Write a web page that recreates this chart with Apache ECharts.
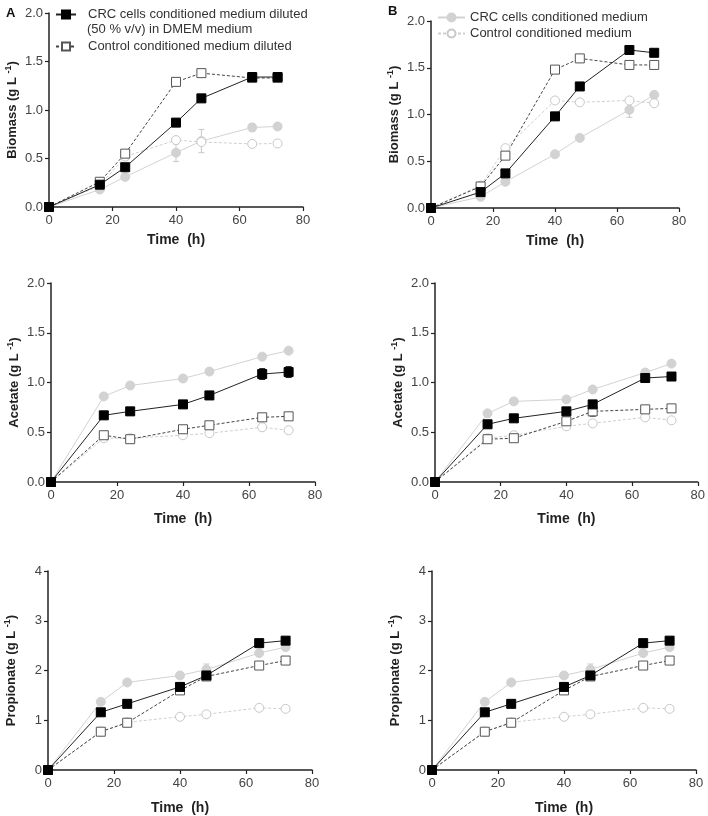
<!DOCTYPE html>
<html>
<head>
<meta charset="utf-8">
<script src="https://cdn.jsdelivr.net/npm/echarts@6/dist/echarts.min.js"></script>
<style>
  html, body { margin: 0; padding: 0; background: #fff; }
  #chart { width: 708px; height: 816px; }
</style>
</head>
<body>
<div id="chart"></div>
<script>
'use strict';

var FONT = '"Liberation Sans", Arial, sans-serif';

// sampling times (h)
var hours = [0, 16, 24, 40, 48, 64, 72];

// series names
var nameCrcDil = 'CRC cells conditioned medium diluted (50 % v/v) in DMEM medium',
		nameCtrlDil = 'Control conditioned medium diluted',
		nameCrc = 'CRC cells conditioned medium',
		nameCtrl = 'Control conditioned medium';

// Biomass, panel A
var bioA_crcDil = [0, 0.23, 0.41, 0.87, 1.12, 1.34, 1.34];
var bioA_ctrlDil = [0, 0.26, 0.55, 1.29, 1.38, 1.33, 1.33];
var bioA_crc = [0, 0.18, 0.31, 0.56, 0.68, 0.82, 0.83];
var bioA_ctrl = [0, 0.22, 0.52, 0.69, 0.67, 0.65, 0.655];

// Biomass, panel B
var bioB_crcDil = [0, 0.17, 0.37, 0.98, 1.30, 1.69, 1.66];
var bioB_ctrlDil = [0, 0.23, 0.56, 1.48, 1.60, 1.53, 1.53];
var bioB_crc = [0, 0.12, 0.28, 0.575, 0.75, 1.05, 1.21];
var bioB_ctrl = [0, 0.24, 0.64, 1.15, 1.13, 1.15, 1.12];

// Acetate, panel A
var acA_crcDil = [0, 0.67, 0.71, 0.78, 0.87, 1.085, 1.105];
var acA_ctrlDil = [0, 0.47, 0.43, 0.53, 0.57, 0.65, 0.66];
var acA_crc = [0, 0.86, 0.97, 1.04, 1.11, 1.26, 1.32];
var acA_ctrl = [0, 0.44, 0.44, 0.47, 0.49, 0.55, 0.52];

// Acetate, panel B
var acB_crcDil = [0, 0.58, 0.64, 0.71, 0.78, 1.045, 1.06];
var acB_ctrlDil = [0, 0.43, 0.44, 0.61, 0.71, 0.73, 0.74];
var acB_crc = [0, 0.69, 0.81, 0.83, 0.93, 1.10, 1.19];
var acB_ctrl = [0, 0.44, 0.47, 0.56, 0.59, 0.65, 0.62];

// Propionate (the two panels show the same values)
var pr_crcDil = [0, 1.16, 1.33, 1.67, 1.90, 2.55, 2.60];
var pr_ctrlDil = [0, 0.77, 0.95, 1.60, 1.88, 2.10, 2.20];
var pr_crc = [0, 1.37, 1.76, 1.90, 2.02, 2.35, 2.47];
var pr_ctrl = [0, 0.77, 0.96, 1.07, 1.12, 1.25, 1.23];

// error bars: [time, low, high]
var errBioA_crc = [[40, 0.47, 0.65], [48, 0.56, 0.80], [64, 0.78, 0.86]];
var errBioB_crc = [[64, 0.97, 1.13]];
var errAcA_crcDil = [[48, 0.83, 0.91], [64, 1.03, 1.14], [72, 1.05, 1.16]];
var errAcB_ctrlDil = [[48, 0.66, 0.76]];
var errPr_crc = [[48, 1.92, 2.13]];

// axis ticks
var timeTicks = {min: 0, max: 80, interval: 20};
var concTicks = {min: 0, max: 2, interval: 0.5};
var propTicks = {min: 0, max: 4, interval: 1};

var styles = {
	crcDil: {symbol: 'rect', color: '#000', border: '#000', line: '#222', dash: 'solid'},
	ctrlDil: {symbol: 'rect', color: '#fff', border: '#555', line: '#444', dash: [3, 2]},
	crc: {symbol: 'circle', color: '#d2d2d2', border: '#d2d2d2', line: '#d2d2d2', dash: 'solid'},
	ctrl: {symbol: 'circle', color: '#fff', border: '#c8c8c8', line: '#cfcfcf', dash: [3, 2]}
};

var panels = [
	{grid: {left: 49, top: 13, width: 254, height: 194}, ticks: concTicks, title: 'Biomass', xGap: 26,
		d: {crcDil: bioA_crcDil, ctrlDil: bioA_ctrlDil, crc: bioA_crc, ctrl: bioA_ctrl},
		err: [{data: errBioA_crc, color: '#c8c8c8'}]},
	{grid: {left: 431, top: 21, width: 248, height: 187}, ticks: concTicks, title: 'Biomass', xGap: 26,
		d: {crcDil: bioB_crcDil, ctrlDil: bioB_ctrlDil, crc: bioB_crc, ctrl: bioB_ctrl},
		err: [{data: errBioB_crc, color: '#c8c8c8'}]},
	{grid: {left: 51, top: 283, width: 264, height: 199}, ticks: concTicks, title: 'Acetate', xGap: 30,
		d: {crcDil: acA_crcDil, ctrlDil: acA_ctrlDil, crc: acA_crc, ctrl: acA_ctrl},
		err: [{data: errAcA_crcDil, color: '#222'}]},
	{grid: {left: 435, top: 283, width: 264, height: 199}, ticks: concTicks, title: 'Acetate', xGap: 30,
		d: {crcDil: acB_crcDil, ctrlDil: acB_ctrlDil, crc: acB_crc, ctrl: acB_ctrl},
		err: [{data: errAcB_ctrlDil, color: '#555'}]},
	{grid: {left: 48, top: 571, width: 264, height: 200}, ticks: propTicks, title: 'Propionate', xGap: 31,
		d: {crcDil: pr_crcDil, ctrlDil: pr_ctrlDil, crc: pr_crc, ctrl: pr_ctrl},
		err: [{data: errPr_crc, color: '#c8c8c8'}]},
	{grid: {left: 432, top: 571, width: 264, height: 200}, ticks: propTicks, title: 'Propionate', xGap: 31,
		d: {crcDil: pr_crcDil, ctrlDil: pr_ctrlDil, crc: pr_crc, ctrl: pr_ctrl},
		err: [{data: errPr_crc, color: '#c8c8c8'}]}
];

var seriesNames = {crcDil: nameCrcDil, ctrlDil: nameCtrlDil, crc: nameCrc, ctrl: nameCtrl};
var drawOrder = ['crc', 'ctrl', 'ctrlDil', 'crcDil'];

function renderErr(params, api) {
	var x = api.value(0),
			lo = api.coord([x, api.value(1)]),
			hi = api.coord([x, api.value(2)]),
			w = 3,
			st = {stroke: api.visual('color'), lineWidth: 1};
	return {
		type: 'group',
		children: [
			{type: 'line', shape: {x1: lo[0], y1: lo[1], x2: hi[0], y2: hi[1]}, style: st},
			{type: 'line', shape: {x1: hi[0] - w, y1: hi[1], x2: hi[0] + w, y2: hi[1]}, style: st},
			{type: 'line', shape: {x1: lo[0] - w, y1: lo[1], x2: lo[0] + w, y2: lo[1]}, style: st}
		]
	};
}

var axisLine = {show: true, lineStyle: {color: '#222', width: 1.5}};
var axisTick = {show: true, length: 4, lineStyle: {color: '#222', width: 1.2}};

var grids = [], xAxes = [], yAxes = [], series = [];

panels.forEach(function (p, i) {
	grids.push(p.grid);
	xAxes.push({
		type: 'value', gridIndex: i,
		min: timeTicks.min, max: timeTicks.max, interval: timeTicks.interval,
		name: 'Time  (h)', nameLocation: 'middle', nameGap: p.xGap,
		nameTextStyle: {fontFamily: FONT, fontSize: 14, fontWeight: 'bold', color: '#222'},
		axisLine: axisLine, axisTick: axisTick, splitLine: {show: false},
		axisLabel: {fontFamily: FONT, fontSize: 13, color: '#444', margin: 7}
	});
	yAxes.push({
		type: 'value', gridIndex: i,
		min: p.ticks.min, max: p.ticks.max, interval: p.ticks.interval,
		name: p.title + ' (g L {sup|-1})', nameLocation: 'middle', nameRotate: 90, nameGap: 28,
		nameTextStyle: {
			fontFamily: FONT, fontSize: 13, fontWeight: 'bold', color: '#222',
			rich: {sup: {fontFamily: FONT, fontSize: 9, fontWeight: 'bold', color: '#222', padding: [0, 0, 8, 0]}}
		},
		axisLine: axisLine, axisTick: axisTick, splitLine: {show: false},
		axisLabel: {
			fontFamily: FONT, fontSize: 13, color: '#444', margin: 6,
			formatter: function (v) { return p.ticks.interval < 1 ? v.toFixed(1) : String(v); }
		}
	});

	p.err.forEach(function (e) {
		series.push({
			type: 'custom', xAxisIndex: i, yAxisIndex: i, z: 1,
			renderItem: renderErr, itemStyle: {color: e.color},
			encode: {x: 0, y: [1, 2]}, data: e.data, silent: true
		});
	});

	drawOrder.forEach(function (key) {
		var s = styles[key];
		series.push({
			name: seriesNames[key], type: 'line', xAxisIndex: i, yAxisIndex: i, z: 2,
			data: hours.map(function (h, k) { return [h, p.d[key][k]]; }),
			symbol: s.symbol, symbolSize: 9, showAllSymbol: true,
			itemStyle: {color: s.color, borderColor: s.border, borderWidth: 1, opacity: 1},
			lineStyle: {color: s.line, width: 1, type: s.dash},
			emphasis: {disabled: true}
		});
	});
});

var legendText = {fontFamily: FONT, fontSize: 13, color: '#333'};

var option = {
	animation: false,
	backgroundColor: '#fff',
	grid: grids,
	xAxis: xAxes,
	yAxis: yAxes,
	series: series,
	legend: [
		{data: [nameCrcDil], left: 55, top: 8, padding: 0, itemWidth: 20, itemHeight: 10, selectedMode: false,
			formatter: function () { return 'CRC cells conditioned medium diluted'; },
			textStyle: Object.assign({padding: [0, 0, 0, 7]}, legendText)},
		{data: [nameCtrlDil], left: 55, top: 40, padding: 0, itemWidth: 20, itemHeight: 10, selectedMode: false,
			textStyle: Object.assign({padding: [0, 0, 0, 7]}, legendText)},
		{data: [nameCrc], left: 437, top: 11, padding: 0, itemWidth: 27, itemHeight: 10, selectedMode: false,
			textStyle: legendText},
		{data: [nameCtrl], left: 437, top: 27, padding: 0, itemWidth: 27, itemHeight: 10, selectedMode: false,
			textStyle: legendText}
	],
	graphic: [
		{type: 'text', left: 87, top: 23, style: {text: '(50 % v/v) in DMEM medium', font: '13px ' + FONT, fill: '#333'}},
		{type: 'text', left: 6, top: 7, style: {text: 'A', font: 'bold 13px ' + FONT, fill: '#111'}},
		{type: 'text', left: 388, top: 5, style: {text: 'B', font: 'bold 13px ' + FONT, fill: '#111'}}
	]
};

var chart = echarts.init(document.getElementById('chart'));
chart.setOption(option);
</script>
</body>
</html>
